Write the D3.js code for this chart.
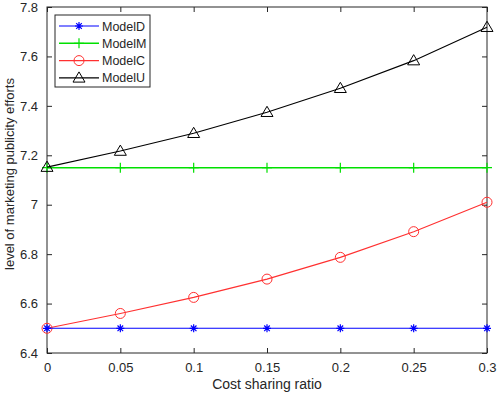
<!DOCTYPE html>
<html><head><meta charset="utf-8">
<script src="https://cdn.jsdelivr.net/npm/d3@7"></script>
<style>body{margin:0;background:#fff}svg{display:block}text{font-family:"Liberation Sans",Arial,sans-serif}</style>
</head><body><svg id="c" width="498" height="397"></svg>
<script>
const xValues = [0, 0.05, 0.1, 0.15, 0.2, 0.25, 0.3];
const modelD = [6.5, 6.5, 6.5, 6.5, 6.5, 6.5, 6.5];
const modelM = [7.15, 7.15, 7.15, 7.15, 7.15, 7.15, 7.15];
const modelC = [6.5, 6.56, 6.625, 6.699, 6.787, 6.891, 7.01];
const modelU = [7.152, 7.217, 7.289, 7.374, 7.471, 7.583, 7.718];
const xTicks = [0, 0.05, 0.1, 0.15, 0.2, 0.25, 0.3];
const yTicks = [6.4, 6.6, 6.8, 7, 7.2, 7.4, 7.6, 7.8];
const seriesNames = ["ModelD", "ModelM", "ModelC", "ModelU"];
const seriesColors = ["#0000ff", "#00e000", "#ff3030", "#000000"];
const seriesMarkers = ["star", "plus", "circle", "triangle"];

const svg = d3.select("#c");
const L = 47, R = 487, T = 7, B = 353;
const x = d3.scaleLinear().domain([0, 0.3]).range([L, R]);
const y = d3.scaleLinear().domain([6.4, 7.8]).range([B, T]);
const axCol = "#262626";

svg.append("rect").attr("x", L).attr("y", T).attr("width", R - L).attr("height", B - T)
  .attr("fill", "none").attr("stroke", axCol).attr("stroke-width", 1);

const fmt = d => String(+d.toFixed(2));
const gx = svg.append("g").attr("transform", `translate(0,${B})`)
  .call(d3.axisBottom(x).tickValues(xTicks).tickSize(-5).tickPadding(10).tickFormat(fmt));
const gxt = svg.append("g").attr("transform", `translate(0,${T})`)
  .call(d3.axisTop(x).tickValues(xTicks).tickSize(-5).tickFormat(""));
const gy = svg.append("g").attr("transform", `translate(${L},0)`)
  .call(d3.axisLeft(y).tickValues(yTicks).tickSize(-5).tickPadding(9).tickFormat(fmt));
const gyr = svg.append("g").attr("transform", `translate(${R},0)`)
  .call(d3.axisRight(y).tickValues(yTicks).tickSize(-5).tickFormat(""));
[gx, gxt, gy, gyr].forEach(g => {
  g.select(".domain").remove();
  g.selectAll("line").attr("stroke", axCol);
  g.selectAll("text").attr("fill", axCol).style("font-size", "13px").style("font-family", '"Liberation Sans",Arial,sans-serif');
});

svg.append("text").attr("x", (L + R) / 2).attr("y", 389).attr("text-anchor", "middle")
  .attr("fill", axCol).style("font-size", "14px").text("Cost sharing ratio");
svg.append("text").attr("transform", `translate(13.5,174) rotate(-90)`).attr("text-anchor", "middle")
  .attr("fill", axCol).style("font-size", "13px").text("level of marketing publicity efforts");

function drawMarker(g, type, cx, cy, color) {
  if (type === "star") {
    const s = 4;
    g.append("path").attr("d", `M${cx - s},${cy}H${cx + s}M${cx},${cy - s}V${cy + s}M${cx - s * 0.7},${cy - s * 0.7}L${cx + s * 0.7},${cy + s * 0.7}M${cx - s * 0.7},${cy + s * 0.7}L${cx + s * 0.7},${cy - s * 0.7}`)
      .attr("stroke", color).attr("stroke-width", 1.2).attr("fill", "none");
  } else if (type === "plus") {
    const s = 5;
    g.append("path").attr("d", `M${cx - s},${cy}H${cx + s}M${cx},${cy - s}V${cy + s}`)
      .attr("stroke", color).attr("stroke-width", 1.2).attr("fill", "none");
  } else if (type === "circle") {
    g.append("circle").attr("cx", cx).attr("cy", cy).attr("r", 5)
      .attr("stroke", color).attr("stroke-width", 1).attr("fill", "none");
  } else {
    const s = 6;
    g.append("path").attr("d", `M${cx},${cy - s}L${cx + s},${cy + s * 0.7}L${cx - s},${cy + s * 0.7}Z`)
      .attr("stroke", color).attr("stroke-width", 1).attr("fill", "none");
  }
}

const allSeries = [modelD, modelM, modelC, modelU];
const line = d3.line().x((d, i) => x(xValues[i])).y(d => y(d));
[1, 3, 2, 0].forEach(k => {
  const g = svg.append("g");
  g.append("path").datum(allSeries[k]).attr("d", line).attr("fill", "none")
    .attr("stroke", seriesColors[k]).attr("stroke-width", k === 1 ? 1.5 : 1.1);
  allSeries[k].forEach((v, i) => drawMarker(g, seriesMarkers[k], x(xValues[i]), y(v), seriesColors[k]));
});

const lg = svg.append("g");
lg.append("rect").attr("x", 55).attr("y", 15).attr("width", 95).attr("height", 72)
  .attr("fill", "#fff").attr("stroke", axCol).attr("stroke-width", 1);
seriesNames.forEach((n, k) => {
  const ly = 26 + k * 17.3;
  lg.append("line").attr("x1", 59).attr("x2", 99).attr("y1", ly).attr("y2", ly)
    .attr("stroke", seriesColors[k]).attr("stroke-width", k === 1 ? 1.5 : 1.1);
  drawMarker(lg, seriesMarkers[k], 79, ly, seriesColors[k]);
  lg.append("text").attr("x", 102).attr("y", ly + 4.5).attr("fill", axCol)
    .style("font-size", "12.5px").text(n);
});
</script></body></html>
